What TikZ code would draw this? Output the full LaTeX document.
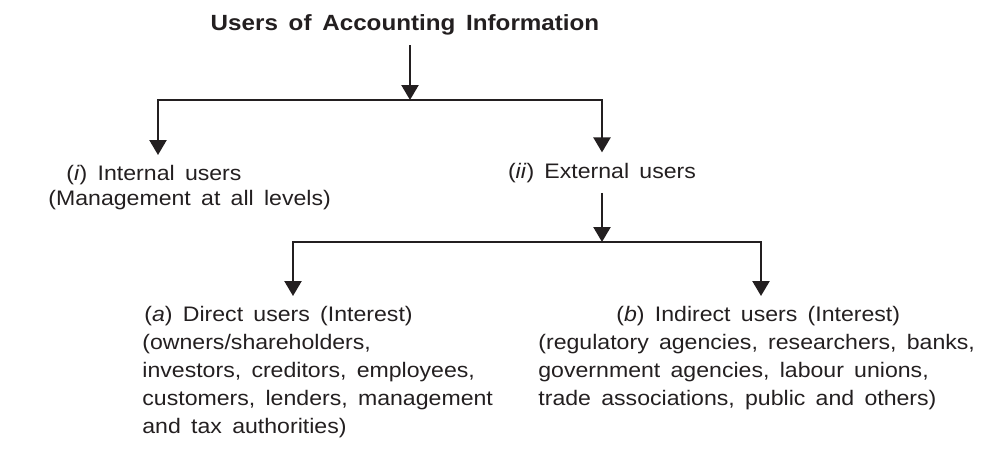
\documentclass[tikz,border=0pt]{standalone}
\usepackage{fontspec}
\setmainfont[FakeStretch=1.1,WordSpace=1.6]{Liberation Sans}
\usetikzlibrary{arrows.meta}
\definecolor{ink}{HTML}{231F20}
\tikzset{
  lbl/.style={font=\fontsize{10.5}{12.5}\selectfont, inner xsep=0pt, inner ysep=5pt, align=left, text=ink},
  blk/.style={lbl, font=\fontsize{10.5}{14}\selectfont},
  conn/.style={draw=ink, line width=1.2pt},
  arr/.style={conn, -{Triangle[length=7.5pt,width=8.5pt]}},
  arr2/.style={conn, {Triangle[length=7.5pt,width=8.5pt]}-{Triangle[length=7.5pt,width=8.5pt]}}
}

\begin{document}
\begin{tikzpicture}[x=0.5pt,y=-0.5pt]
\useasboundingbox (0,0) rectangle (986,450);
%\draw[step=50,gray,very thin] (0,0) grid (986,450); %grid lines

\draw node[lbl, font=\fontsize{11}{13}\selectfont\bfseries, anchor=base] (title) at (405,30) {Users of Accounting Information};

\draw node[lbl, anchor=north west] (intl) at (48,155) {\hspace*{9pt}(\textit{i}) Internal users\\(Management at all levels)};
\draw node[lbl, anchor=base] (extl) at (602,178) {(\textit{ii}) External users};

\draw node[blk, anchor=north west] (drct) at (142,296) {\hspace*{1pt}(\textit{a}) Direct users (Interest)\\(owners/shareholders,\\investors, creditors, employees,\\customers, lenders, management\\and tax authorities)};
\draw node[blk, anchor=north west] (indr) at (538,296) {\hspace*{39pt}(\textit{b}) Indirect users (Interest)\\(regulatory agencies, researchers, banks,\\government agencies, labour unions,\\trade associations, public and others)};

\coordinate (j1) at (410,100);
\coordinate (bl) at (158,100);
\coordinate (br) at (602,100);
\coordinate (j2) at (602,242);
\coordinate (cl) at (293,242);
\coordinate (cr) at (761,242);

\draw[arr] (title.south -| j1) -- (j1);
\draw[arr2] (bl |- intl.north) -- (bl) -- (br) -- (extl.north);

\draw[arr] (extl.south) -- (j2);
\draw[arr2] (cl |- drct.north) -- (cl) -- (cr) -- (cr |- indr.north);
\end{tikzpicture}
\end{document}
